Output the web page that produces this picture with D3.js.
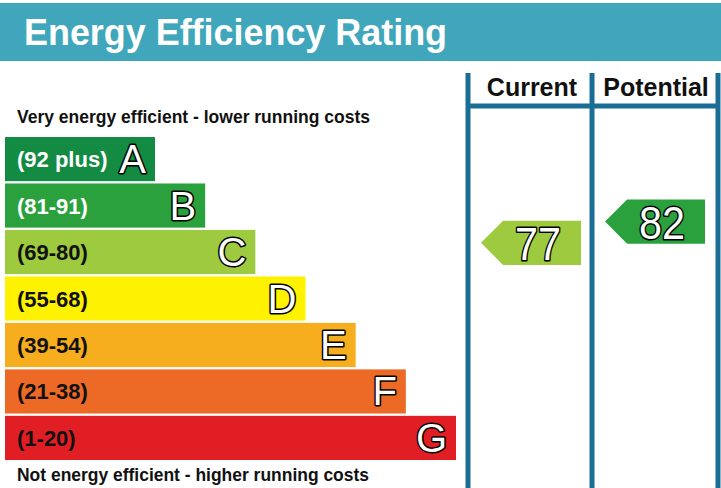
<!DOCTYPE html>
<html lang="en">
<head>
<meta charset="UTF-8">
<title>Energy Efficiency Rating</title>
<script src="https://d3js.org/d3.v7.min.js"></script>
<style>
  body { margin: 0; padding: 0; background: #ffffff; }
  svg { display: block; font-family: "Liberation Sans", Arial, sans-serif; }
  .outlined { paint-order: stroke; stroke-linejoin: round; }
</style>
</head>
<body>
<div id="chart"></div>
<script>
  // rating bands, best first
  const letters = ["A", "B", "C", "D", "E", "F", "G"];
  const ranges = ["(92 plus)", "(81-91)", "(69-80)", "(55-68)", "(39-54)", "(21-38)", "(1-20)"];
  const lows = [92, 81, 69, 55, 39, 21, 1];
  const highs = [100, 91, 80, 68, 54, 38, 20];
  const colors = ["#138b43", "#2ba13d", "#9dca3e", "#fff200", "#f6ad1e", "#ec6a26", "#e21e25"];
  const labelColors = ["#ffffff", "#ffffff", "#111111", "#111111", "#111111", "#111111", "#111111"];

  const columns = ["Current", "Potential"];
  const scores = [77, 82];

  const width = 721, height = 488;
  const teal = "#3fa6bb", rule = "#1a6e95";

  const svg = d3.select("#chart").append("svg")
      .attr("width", width)
      .attr("height", height);

  // header band
  svg.append("rect")
      .attr("x", 0).attr("y", 3)
      .attr("width", width).attr("height", 58)
      .attr("fill", teal);
  svg.append("text")
      .attr("x", 24).attr("y", 45)
      .attr("font-size", 37).attr("font-weight", "bold")
      .attr("fill", "#ffffff")
      .attr("textLength", 423).attr("lengthAdjust", "spacingAndGlyphs")
      .text("Energy Efficiency Rating");

  // scales
  const y = d3.scaleBand().domain(letters).range([137, 460]).paddingInner(0.05);
  const barEnd = d3.scaleLinear().domain([0, letters.length - 1]).range([155, 456]);
  const col = d3.scaleBand().domain(columns).range([470, 716]).paddingInner(0.0165);

  // bars
  const rows = svg.append("g").selectAll("g")
      .data(letters)
      .join("g");

  rows.append("rect")
      .attr("x", 5)
      .attr("y", d => y(d))
      .attr("width", (d, i) => barEnd(i) - 5)
      .attr("height", y.bandwidth())
      .attr("fill", (d, i) => colors[i]);

  rows.append("text")
      .attr("x", 17)
      .attr("y", d => y(d) + y.bandwidth() / 2 + 8)
      .attr("font-size", 22).attr("font-weight", "bold")
      .attr("fill", (d, i) => labelColors[i])
      .text((d, i) => ranges[i]);

  rows.append("text")
      .attr("class", "outlined")
      .attr("x", (d, i) => barEnd(i) - 9)
      .attr("y", d => y(d) + y.bandwidth() / 2 + 14)
      .attr("text-anchor", "end")
      .attr("font-size", 40)
      .attr("fill", "#ffffff")
      .attr("stroke", "#000000").attr("stroke-width", 3)
      .text(d => d);

  // captions
  svg.append("text")
      .attr("x", 17).attr("y", 123)
      .attr("font-size", 18).attr("font-weight", "bold").attr("fill", "#111111")
      .attr("textLength", 353).attr("lengthAdjust", "spacingAndGlyphs")
      .text("Very energy efficient - lower running costs");
  svg.append("text")
      .attr("x", 17).attr("y", 481)
      .attr("font-size", 18).attr("font-weight", "bold").attr("fill", "#111111")
      .attr("textLength", 352).attr("lengthAdjust", "spacingAndGlyphs")
      .text("Not energy efficient - higher running costs");

  // column rules
  const ruleXs = [col("Current") - 2, col("Potential") - 2, col("Potential") + col.bandwidth() + 2];
  svg.append("g").selectAll("line")
      .data(ruleXs)
      .join("line")
      .attr("x1", d => d).attr("x2", d => d)
      .attr("y1", 73).attr("y2", height)
      .attr("stroke", rule).attr("stroke-width", 5);
  svg.append("line")
      .attr("x1", ruleXs[0]).attr("x2", ruleXs[2])
      .attr("y1", 106).attr("y2", 106)
      .attr("stroke", rule).attr("stroke-width", 5);

  svg.append("g").selectAll("text")
      .data(columns)
      .join("text")
      .attr("x", d => col(d) + col.bandwidth() / 2 + 1)
      .attr("y", 96)
      .attr("text-anchor", "middle")
      .attr("font-size", 25).attr("font-weight", "bold").attr("fill", "#111111")
      .text(d => d);

  // score arrows, placed inside their band
  function bandIndex(v) {
    return lows.findIndex(lo => v >= lo);
  }
  function scoreY(v) {
    const i = bandIndex(v);
    const s = d3.scaleLinear()
        .domain([lows[i] - 0.5, highs[i] + 0.5])
        .range([y(letters[i]) + y.bandwidth(), y(letters[i])]);
    return s(v);
  }

  const h = y.bandwidth();
  const arrows = svg.append("g").selectAll("g")
      .data(columns)
      .join("g")
      .attr("transform", (d, i) => `translate(${col(d) + 11},${scoreY(scores[i]) - h / 2})`);

  arrows.append("path")
      .attr("d", `M0,${h / 2} L${h / 2},0 L100,0 L100,${h} L${h / 2},${h} Z`)
      .attr("fill", (d, i) => colors[bandIndex(scores[i])]);

  arrows.append("text")
      .attr("class", "outlined")
      .attr("x", (h / 2 + 100) / 2 - 4)
      .attr("y", h / 2 + 17)
      .attr("text-anchor", "middle")
      .attr("font-size", 46)
      .attr("fill", "#ffffff")
      .attr("stroke", "#000000").attr("stroke-width", 3)
      .attr("textLength", 46).attr("lengthAdjust", "spacingAndGlyphs")
      .text((d, i) => scores[i]);
</script>
</body>
</html>
